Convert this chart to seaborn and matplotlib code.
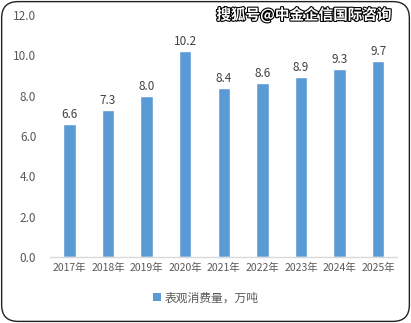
import matplotlib
matplotlib.use("Agg")
import matplotlib.pyplot as plt
import matplotlib.patheffects as pe
from matplotlib.patches import FancyBboxPatch, Patch
import seaborn as sns
import pandas as pd

years = ["2017年", "2018年", "2019年", "2020年", "2021年", "2022年", "2023年", "2024年", "2025年"]
consumption = [6.6, 7.3, 8.0, 10.2, 8.4, 8.6, 8.9, 9.3, 9.7]
series_name = "表观消费量，万吨"
yticks = [0.0, 2.0, 4.0, 6.0, 8.0, 10.0, 12.0]

sns.set_theme(style="white")
plt.rcParams["font.family"] = ["Noto Sans CJK SC", "DejaVu Sans"]

df = pd.DataFrame({"year": years, "value": consumption})

fig = plt.figure(figsize=(4.11, 3.23), dpi=100)
ax = fig.add_axes([0.122, 0.204, 0.845, 0.75])

bar_color = "#5B9BD5"
text_color = "#595959"
sns.barplot(data=df, x="year", y="value", color=bar_color, width=0.32,
            saturation=1, ax=ax)

for i, v in enumerate(consumption):
    ax.text(i, v + 0.15, f"{v:.1f}", ha="center", va="bottom",
            fontsize=8.5, color="#404040")

ax.set_ylim(0, 12)
ax.set_xlim(-0.5, len(years) - 0.5)
ax.set_yticks(yticks)
ax.set_yticklabels([f"{t:.1f}" for t in yticks], fontsize=8.5, color=text_color)
ax.set_xticks(range(len(years)))
ax.set_xticklabels(years, fontsize=7.5, color=text_color)
ax.tick_params(axis="both", length=0, pad=4)
ax.tick_params(axis="y", pad=10)
ax.set_xlabel("")
ax.set_ylabel("")
for side in ["top", "right", "left"]:
    ax.spines[side].set_visible(False)
ax.spines["bottom"].set_color("#D9D9D9")
ax.spines["bottom"].set_linewidth(1)

fig.legend(handles=[Patch(facecolor=bar_color, edgecolor="none", label=series_name)],
           loc="center", bbox_to_anchor=(0.5, 0.078), frameon=False,
           fontsize=8.5, handlelength=0.7, handleheight=0.7, handletextpad=0.3,
           labelcolor=text_color)

fig.text(0.74, 0.953, "搜狐号@中金企信国际咨询", ha="center", va="center",
         fontsize=10.5, color="white", fontweight="bold",
         path_effects=[pe.withStroke(linewidth=1.6, foreground="black")])

border = FancyBboxPatch((0.004, 0.005), 0.992, 0.99, transform=fig.transFigure,
                        boxstyle="round,pad=0,rounding_size=0.04",
                        facecolor="none", edgecolor="#222222", linewidth=1.0,
                        mutation_aspect=411 / 323)
fig.patches.append(border)

fig.savefig("out.png", dpi=100)
